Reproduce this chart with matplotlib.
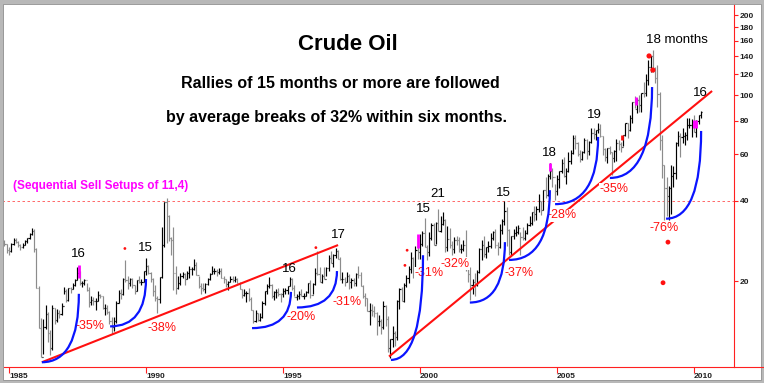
# Crude oil monthly bars, log scale, with rally counts and following breaks

import numpy as np
import matplotlib.pyplot as plt
from matplotlib.path import Path
from matplotlib.patches import PathPatch, Rectangle
from matplotlib.lines import Line2D
from matplotlib.ticker import NullLocator

plt.rcParams['font.family'] = ['Liberation Sans', 'DejaVu Sans']

# monthly bars, first bar = Oct 1984
first_bar = 1984 + 9 / 12.0

high = [
    29.9, 28.6, 27.6,                                                       # 1984
    26.8, 27.9, 28.9, 28.9, 28.3, 27.6, 27.8, 28.6, 29.1, 30.4, 31.7, 31.5, # 1985
    26.5, 19.2, 14.5, 14.4, 16.3, 15.3, 13.1, 16.2, 15.9, 15.7, 15.6, 16.6, # 1986
    19.0, 18.6, 18.8, 19.0, 19.6, 20.4, 22.6, 21.8, 20.0, 20.3, 19.6, 19.0, # 1987
    17.6, 17.4, 17.2, 18.4, 17.9, 17.6, 16.4, 16.2, 15.4, 14.6, 14.6, 16.8, # 1988
    18.5, 18.6, 20.6, 24.0, 20.8, 20.6, 20.6, 19.3, 20.2, 20.8, 20.4, 21.9, # 1989
    24.5, 23.0, 21.6, 20.5, 19.3, 17.5, 20.7, 31.9, 39.5, 41.2, 35.5, 29.3, # 1990
    32.0, 22.8, 20.8, 21.5, 21.6, 21.4, 21.9, 22.8, 22.6, 24.2, 23.5, 20.8, # 1991
    19.6, 19.7, 19.6, 20.6, 21.5, 22.8, 22.4, 22.2, 22.4, 22.3, 20.9, 20.3, # 1992
    20.0, 20.8, 20.8, 20.9, 20.5, 19.9, 18.6, 18.7, 18.3, 18.9, 17.4, 15.6, # 1993
    15.5, 15.2, 15.2, 16.8, 18.4, 19.5, 20.7, 19.5, 18.4, 18.6, 18.9, 18.0, # 1994
    18.9, 18.9, 19.2, 20.7, 20.5, 19.3, 17.9, 18.3, 18.6, 18.0, 18.3, 19.6, # 1995
    20.2, 19.7, 22.4, 25.9, 22.5, 21.3, 22.6, 22.6, 25.0, 25.9, 25.2, 26.6, # 1996
    26.2, 24.6, 21.6, 20.7, 21.7, 21.3, 20.6, 20.6, 21.4, 22.8, 21.6, 19.4, # 1997
    18.0, 17.2, 16.6, 16.4, 16.1, 15.3, 14.9, 14.4, 16.8, 16.3, 14.8, 12.1, # 1998
    13.5, 13.0, 16.9, 18.9, 19.0, 19.6, 21.0, 22.7, 25.6, 24.6, 27.1, 27.2, # 1999
    30.0, 30.9, 34.4, 27.4, 30.5, 33.1, 33.0, 33.3, 37.2, 35.0, 36.2, 34.1, # 2000
    32.2, 31.6, 28.2, 29.2, 29.4, 29.3, 27.6, 28.6, 31.0, 23.5, 22.5, 20.4, # 2001
    21.5, 22.0, 26.6, 28.4, 29.4, 26.9, 28.2, 30.3, 30.8, 31.4, 28.1, 32.7, # 2002
    34.3, 40.0, 38.1, 31.4, 29.6, 31.5, 32.3, 32.4, 30.5, 31.8, 31.1, 33.0, # 2003
    35.2, 36.2, 38.2, 38.2, 42.3, 40.0, 43.8, 49.4, 50.5, 55.7, 53.1, 46.5, # 2004
    49.9, 52.0, 57.6, 58.3, 53.0, 60.9, 62.3, 70.9, 70.8, 66.9, 62.1, 61.8, # 2005
    69.2, 68.1, 67.4, 75.4, 74.9, 73.9, 78.4, 77.7, 70.3, 63.0, 63.5, 64.4, # 2006
    61.1, 62.3, 68.1, 67.5, 66.9, 71.0, 78.8, 78.8, 83.9, 94.5, 99.3, 97.5, # 2007
    100.1, 102.1, 111.8, 119.9, 135.1, 140.4, 147.3, 127.6, 130.0, 103.0, 70.8, 54.4,  # 2008
    49.0, 45.5, 54.7, 54.0, 66.6, 73.4, 72.0, 75.0, 72.9, 82.0, 82.0, 81.4, # 2009
    84.0, 80.5, 83.8, 87.2,                                                 # 2010
]

low = [
    27.5, 27.0, 25.5,
    25.0, 25.8, 27.3, 27.9, 26.8, 26.2, 26.6, 27.2, 27.9, 28.7, 29.9, 25.8,
    18.8, 13.3, 10.4, 10.6, 13.2, 11.8, 10.5, 11.0, 13.8, 14.0, 14.5, 14.9,
    17.8, 16.7, 16.8, 18.0, 18.7, 19.2, 20.2, 19.3, 19.0, 19.4, 18.3, 16.0,
    16.2, 16.3, 15.6, 16.8, 17.2, 15.7, 14.9, 15.0, 13.8, 12.6, 13.0, 13.9,
    16.5, 17.1, 17.7, 19.8, 18.7, 19.1, 18.8, 17.8, 18.3, 19.6, 19.4, 19.9,
    21.0, 21.2, 19.8, 17.5, 16.8, 15.1, 16.5, 20.5, 26.9, 27.8, 28.2, 25.0,
    18.5, 17.9, 18.6, 19.4, 20.5, 19.4, 20.4, 20.5, 21.0, 22.0, 21.0, 18.9,
    17.8, 18.3, 18.0, 19.4, 20.2, 21.2, 21.3, 20.8, 21.3, 20.5, 19.6, 19.0,
    18.5, 19.9, 19.9, 19.9, 19.6, 18.6, 17.3, 17.5, 16.7, 16.8, 15.5, 13.9,
    14.0, 14.1, 14.1, 14.5, 16.2, 17.8, 18.8, 17.3, 16.9, 17.2, 17.5, 16.7,
    17.4, 17.9, 17.8, 19.1, 18.5, 17.5, 16.9, 17.1, 17.5, 17.1, 17.5, 18.1,
    17.2, 17.9, 19.3, 21.1, 19.8, 19.6, 20.4, 20.8, 21.9, 23.4, 22.6, 24.4,
    24.3, 20.2, 19.7, 19.1, 19.9, 18.7, 18.9, 19.1, 19.1, 20.6, 19.2, 17.2,
    16.1, 15.4, 13.7, 14.8, 14.6, 12.5, 13.6, 12.6, 13.2, 13.6, 10.8, 10.3,
    11.3, 11.4, 12.0, 15.7, 16.8, 16.7, 19.0, 19.6, 21.4, 20.5, 21.6, 24.1,
    24.2, 27.1, 26.8, 23.9, 24.8, 28.6, 27.4, 27.6, 30.8, 30.5, 32.6, 25.8,
    26.0, 26.6, 25.1, 25.5, 27.2, 25.6, 25.5, 25.9, 21.8, 19.8, 17.0, 17.8,
    17.6, 19.1, 21.4, 23.9, 24.7, 24.4, 25.8, 26.6, 28.4, 26.5, 25.0, 26.5,
    30.0, 32.4, 27.0, 25.0, 25.1, 28.7, 29.4, 30.0, 25.0, 28.4, 28.6, 30.0,
    32.2, 32.5, 33.7, 33.8, 36.4, 35.5, 36.9, 41.1, 41.9, 48.3, 45.3, 40.3,
    42.1, 44.8, 51.1, 49.2, 46.2, 51.5, 55.3, 60.0, 62.6, 59.0, 56.1, 56.9,
    60.8, 57.6, 59.6, 65.9, 68.2, 68.0, 72.0, 69.6, 59.5, 56.6, 55.4, 60.2,
    49.9, 56.0, 56.5, 61.9, 61.3, 64.2, 69.9, 69.0, 73.1, 78.3, 89.7, 85.9,
    86.1, 86.1, 98.7, 99.6, 109.5, 121.6, 122.2, 111.3, 90.5, 62.0, 48.6, 33.9,
    35.0, 34.0, 35.7, 45.1, 48.3, 64.3, 58.3, 66.2, 65.0, 68.0, 75.2, 69.5,
    72.4, 69.5, 77.6, 82.0,
]

close = [
    27.8, 27.5, 26.2,
    25.9, 27.6, 28.6, 28.1, 27.4, 26.9, 27.4, 28.3, 28.9, 30.0, 30.8, 26.3,
    18.8, 13.3, 10.4, 13.4, 15.0, 12.7, 11.2, 15.8, 14.3, 15.2, 15.0, 16.1,
    18.4, 16.9, 18.8, 18.7, 19.4, 20.2, 21.4, 19.6, 19.6, 20.2, 18.5, 16.7,
    17.0, 16.8, 16.8, 17.7, 17.5, 15.8, 15.9, 15.3, 14.2, 13.4, 14.2, 16.6,
    18.0, 17.9, 20.3, 20.2, 19.6, 20.3, 19.4, 18.3, 20.1, 19.9, 19.9, 21.8,
    22.7, 21.5, 20.3, 18.3, 17.3, 17.1, 20.7, 27.3, 39.5, 35.2, 29.0, 28.4,
    21.5, 18.9, 19.6, 20.8, 21.2, 20.3, 21.4, 22.2, 22.2, 23.0, 21.1, 19.1,
    18.9, 18.7, 19.5, 20.4, 21.3, 21.8, 21.9, 21.7, 21.9, 20.6, 20.3, 19.5,
    19.9, 20.4, 20.2, 20.4, 19.7, 18.6, 17.7, 18.0, 18.1, 17.1, 15.6, 14.2,
    15.2, 14.3, 14.7, 16.6, 18.3, 19.1, 19.4, 17.5, 18.2, 18.2, 17.9, 17.8,
    18.4, 18.5, 19.2, 20.4, 18.9, 17.4, 17.6, 17.8, 17.5, 17.6, 18.2, 19.6,
    17.7, 19.5, 21.5, 21.2, 19.8, 20.9, 20.4, 22.3, 24.4, 23.3, 25.0, 25.9,
    24.2, 20.3, 20.4, 19.9, 20.9, 19.8, 20.1, 19.6, 21.2, 21.0, 19.2, 17.6,
    17.2, 15.4, 15.6, 15.4, 15.2, 14.2, 14.2, 13.4, 16.1, 14.4, 11.2, 12.1,
    12.7, 12.3, 16.8, 18.7, 16.8, 19.3, 20.5, 22.1, 24.5, 21.8, 26.1, 25.6,
    27.6, 30.4, 26.9, 25.7, 29.0, 32.5, 27.4, 33.1, 30.8, 32.7, 34.0, 26.8,
    28.7, 27.4, 26.3, 28.5, 28.4, 26.3, 26.4, 27.2, 23.4, 21.2, 19.4, 19.8,
    19.5, 21.7, 26.3, 27.3, 25.3, 26.9, 27.0, 29.0, 30.5, 27.2, 26.9, 31.2,
    33.5, 36.6, 31.0, 25.8, 29.6, 30.2, 30.5, 31.6, 29.2, 29.1, 30.4, 32.5,
    33.1, 36.2, 35.8, 37.4, 39.9, 37.1, 43.8, 42.1, 49.6, 51.8, 49.1, 43.5,
    48.2, 51.8, 55.4, 49.7, 52.0, 56.5, 60.6, 68.9, 66.2, 59.8, 57.3, 61.0,
    67.9, 61.4, 66.6, 71.9, 71.3, 73.9, 74.4, 70.3, 62.9, 58.7, 63.1, 61.1,
    58.1, 61.8, 65.9, 65.7, 64.0, 70.7, 78.2, 74.0, 81.7, 94.5, 88.7, 96.0,
    91.8, 101.8, 101.6, 113.5, 127.4, 140.0, 124.1, 115.5, 100.6, 67.8, 54.4, 44.6,
    41.7, 44.8, 49.7, 51.1, 66.3, 69.9, 69.5, 70.0, 70.6, 77.0, 77.3, 79.4,
    72.9, 79.7, 83.8, 86.2,
]

# rally lengths (months) shown above the tops
count_labels = ["16", "15", "16", "17", "15", "21", "15", "18", "19", "18 months", "16"]
count_x = [1987.52, 1989.96, 1995.22, 1997.01, 2000.11, 2000.66, 2003.03, 2004.71, 2006.35, 2009.38, 2010.22]
count_y = [25.2, 26.5, 22.1, 29.9, 37.3, 42.4, 42.8, 60.6, 84.2, 161.0, 101.8]

# size of the break that followed
break_labels = ["-35%", "-38%", "-20%", "-31%", "-31%", "-32%", "-37%", "-28%", "-35%", "-76%"]
break_x = [1987.96, 1990.58, 1995.66, 1997.34, 2000.33, 2001.28, 2003.61, 2005.18, 2007.08, 2008.90]
break_y = [13.5, 13.3, 14.6, 16.7, 21.4, 23.2, 21.4, 35.3, 44.3, 31.6]

# blue arcs: (start date, start price, end date, end price)
arcs = [
    (1986.20, 9.9, 1987.55, 17.9),
    (1988.69, 13.5, 1990.00, 20.35),
    (1993.87, 13.3, 1995.29, 18.2),
    (1995.51, 15.9, 1996.97, 21.8),
    (1998.94, 10.1, 2000.11, 25.0),
    (2001.82, 16.6, 2003.10, 28.0),
    (2003.25, 24.0, 2004.74, 43.9),
    (2004.93, 38.9, 2006.50, 69.6),
    (2006.93, 48.8, 2008.47, 107.2),
    (2008.98, 34.3, 2010.26, 73.3),
]

# red trend lines
trend_lines = [
    ((1986.20, 1997.01), (9.9, 27.3)),
    ((1998.87, 2010.66), (10.4, 103.6)),
]

# sequential sell setup marks (magenta) and red marks
setup_x = [1987.55, 1999.93, 2004.74, 2007.87, 2010.04]
setup_lo = [20.5, 26.7, 51.8, 91.8, 75.2]
setup_hi = [22.9, 30.0, 55.5, 98.3, 80.6]
setup_w = [2.0, 2.0, 2.0, 2.0, 3.5]
red_dot_x = [2008.36, 2008.50, 2009.05, 2008.87, 1989.23, 1996.20, 1999.53, 1999.45]
red_dot_y = [140.3, 124.2, 28.0, 19.7, 26.5, 26.7, 26.1, 22.9]
red_dot_s = [14, 14, 12, 12, 4, 4, 4, 4]

fig = plt.figure(figsize=(7.64, 3.83), dpi=100)
ax = fig.add_axes([2 / 764, 16 / 383, 732 / 764, 364 / 383])
ax.set_yscale('log')
ax.set_xlim(1984.745, 2011.46)
ax.set_ylim(9.5, 221.9)

high = np.array(high)
low = np.array(low)
close = np.array(close)
t = first_bar + np.arange(len(close)) / 12.0
opn = np.r_[close[0], close[:-1]]
cols = np.where(close >= opn, 'black', '#8c8c8c')

ax.vlines(t, low, high, colors=cols, lw=0.85, zorder=2)
ax.hlines(close, t, t + 0.04, colors=cols, lw=0.85, zorder=2)
ax.hlines(opn, t - 0.04, t, colors=cols, lw=0.85, zorder=2)

ax.axhline(40, color='#ff5050', lw=0.6, dashes=(3, 3), zorder=1)

for xs, ys in trend_lines:
    ax.plot(xs, ys, color='#ff1010', lw=1.5, zorder=3, solid_capstyle='butt')

for x0, y0, x1, y1 in arcs:
    path = Path([(x0, y0), (x1, y0), (x1, y1)], [Path.MOVETO, Path.CURVE3, Path.CURVE3])
    ax.add_patch(PathPatch(path, fill=False, edgecolor='#0a14ff', lw=1.6, zorder=5))

for x, lo, hi, w in zip(setup_x, setup_lo, setup_hi, setup_w):
    ax.vlines(x, lo, hi, colors='#ff00ff', lw=w, zorder=4)
ax.vlines(2007.37, 67.5, 70.8, colors='#ff1010', lw=2, zorder=4)
ax.scatter(red_dot_x, red_dot_y, s=red_dot_s, color='#ff1010', zorder=6, linewidths=0)

for s, x, y in zip(count_labels, count_x, count_y):
    ax.text(x, y, s, fontsize=9.5, color='black', ha='center', va='center', zorder=6)
for s, x, y in zip(break_labels, break_x, break_y):
    ax.text(x, y, s, fontsize=9, color='#ff1010', ha='center', va='center', zorder=4,
            bbox=dict(facecolor='white', edgecolor='none', pad=0.3))

# axes styling
for side in ['top', 'left']:
    ax.spines[side].set_visible(False)
for side in ['bottom', 'right']:
    ax.spines[side].set_color('#ff2020')
    ax.spines[side].set_linewidth(0.8)

ax.yaxis.tick_right()
ax.set_yticks([20, 40, 60, 80, 100, 120, 140, 160, 180, 200])
ax.set_yticklabels(['20', '40', '60', '80', '100', '120', '140', '160', '180', '200'],
                   fontweight='bold')
ax.yaxis.set_minor_locator(NullLocator())
ax.tick_params(axis='y', color='#ff2020', labelcolor='#202020', length=3, width=0.8,
               labelsize=6, pad=1)

ax.set_xticks([1985, 1990, 1995, 2000, 2005, 2010])
ax.set_xticklabels(['1985', '1990', '1995', '2000', '2005', '2010'], fontweight='bold')
ax.tick_params(axis='x', color='#ff2020', labelcolor='#202020', length=4, width=0.8,
               labelsize=6, pad=0.5)
for lab in ax.get_xticklabels():
    lab.set_ha('left')

# titles
fig.text(348 / 764, 1 - 45 / 383, "Crude Oil", fontsize=16, fontweight='bold',
         ha='center', va='center')
fig.text(340 / 764, 1 - 83 / 383, "Rallies of 15 months or more are followed",
         fontsize=11.5, fontweight='bold', ha='center', va='center')
fig.text(336.5 / 764, 1 - 117 / 383, "by average breaks of 32% within six months.",
         fontsize=11.5, fontweight='bold', ha='center', va='center')
fig.text(13 / 764, 1 - 186 / 383, "(Sequential Sell Setups of 11,4)", fontsize=8.5,
         fontweight='bold', color='#ff00ff', ha='left', va='center')

# bottom axis line runs on to the frame
fig.add_artist(Line2D([734 / 764, 1], [16 / 383, 16 / 383], color='#ff2020', lw=0.8))

# grey frame
fig.add_artist(Rectangle((0, 0), 1, 1, transform=fig.transFigure, fill=False,
                         edgecolor='#b8b8b8', lw=5))
fig.add_artist(Rectangle((3.5 / 764, 3.5 / 383), 1 - 7 / 764, 1 - 7 / 383,
                         transform=fig.transFigure, fill=False, edgecolor='#9a9a9a', lw=0.7))

fig.savefig('out.png', dpi=100, facecolor='white')
